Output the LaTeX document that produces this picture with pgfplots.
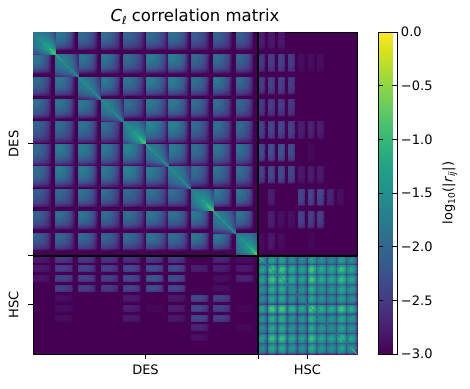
\documentclass[border=0pt]{standalone}
\usepackage{fontspec}
\setmainfont{DejaVu Sans}
\usepackage{pgfplots}
\usepackage{pgfplotstable}
\pgfplotsset{compat=1.18}
\definecolor{vbg}{RGB}{68,1,84}
% Shape of an off-diagonal DES tile
\pgfplotstableread{
u v t
0 0 .90
.08 0 .95
.25 0 .92
.5 0 .81
.7 0 .65
.82 0 .48
.92 0 .24
1 0 0
0 .08 .95
.08 .08 1.0
.25 .08 .97
.5 .08 .85
.7 .08 .68
.82 .08 .50
.92 .08 .25
1 .08 0
0 .25 .92
.08 .25 .97
.25 .25 .99
.5 .25 .82
.7 .25 .66
.82 .25 .49
.92 .25 .24
1 .25 0
0 .5 .81
.08 .5 .85
.25 .5 .82
.5 .5 .78
.7 .5 .58
.82 .5 .43
.92 .5 .21
1 .5 0
0 .7 .65
.08 .7 .68
.25 .7 .66
.5 .7 .58
.7 .7 .52
.82 .7 .34
.92 .7 .17
1 .7 0
0 .82 .48
.08 .82 .50
.25 .82 .49
.5 .82 .43
.7 .82 .34
.82 .82 .30
.92 .82 .13
1 .82 0
0 .92 .24
.08 .92 .25
.25 .92 .24
.5 .92 .21
.7 .92 .17
.82 .92 .13
.92 .92 .08
1 .92 0
0 1 0
.08 1 0
.25 1 0
.5 1 0
.7 1 0
.82 1 0
.92 1 0
1 1 0
}\tT
% Diagonal DES tile with a thin ridge
\pgfplotstableread{
u v t
0 0 1.2
.08 0 1.25
.25 0 1.2
.5 0 1.1
.7 0 .9
.82 0 .7
.92 0 .45
1 0 .2
0 .08 1.25
.08 .08 1.35
.25 .08 1.25
.5 .08 1.15
.7 .08 .95
.82 .08 .75
.92 .08 .5
1 .08 .25
0 .25 1.2
.08 .25 1.25
.25 .25 1.35
.5 .25 1.2
.7 .25 1.0
.82 .25 .8
.92 .25 .55
1 .25 .3
0 .5 1.1
.08 .5 1.15
.25 .5 1.2
.5 .5 1.3
.7 .5 1.1
.82 .5 .9
.92 .5 .6
1 .5 .35
0 .7 .9
.08 .7 .95
.25 .7 1.0
.5 .7 1.1
.7 .7 1.25
.82 .7 1.05
.92 .7 .75
1 .7 .45
0 .82 .7
.08 .82 .75
.25 .82 .8
.5 .82 .9
.7 .82 1.05
.82 .82 1.25
.92 .82 .95
1 .82 .6
0 .92 .45
.08 .92 .5
.25 .92 .55
.5 .92 .6
.7 .92 .75
.82 .92 .95
.92 .92 1.3
1 .92 .85
0 1 .2
.08 1 .25
.25 1 .3
.5 1 .35
.7 1 .45
.82 1 .6
.92 1 .85
1 1 1.4
}\tD
% Diagonal DES tile that brightens to its lower right corner
\pgfplotstableread{
u v t
0 0 1.0
.08 0 1.1
.25 0 1.15
.5 0 1.1
.7 0 1.0
.82 0 .85
.92 0 .6
1 0 .4
0 .08 1.1
.08 .08 1.3
.25 .08 1.25
.5 .08 1.2
.7 .08 1.1
.82 .08 .95
.92 .08 .7
1 .08 .5
0 .25 1.15
.08 .25 1.25
.25 .25 1.45
.5 .25 1.35
.7 .25 1.25
.82 .25 1.1
.92 .25 .85
1 .25 .65
0 .5 1.1
.08 .5 1.2
.25 .5 1.35
.5 .5 1.6
.7 .5 1.5
.82 .5 1.35
.92 .5 1.15
1 .5 .9
0 .7 1.0
.08 .7 1.1
.25 .7 1.25
.5 .7 1.5
.7 .7 1.8
.82 .7 1.7
.92 .7 1.45
1 .7 1.2
0 .82 .85
.08 .82 .95
.25 .82 1.1
.5 .82 1.35
.7 .82 1.7
.82 .82 2.0
.92 .82 1.9
1 .82 1.6
0 .92 .6
.08 .92 .7
.25 .92 .85
.5 .92 1.15
.7 .92 1.45
.82 .92 1.9
.92 .92 2.2
1 .92 2.0
0 1 .4
.08 1 .5
.25 1 .65
.5 1 .9
.7 1 1.2
.82 1 1.6
.92 1 2.0
1 1 2.5
}\tE
% HSC tile
\pgfplotstableread{
u v t
0 0 .55
.25 0 .75
.5 0 .8
.75 0 .65
1 0 .2
0 .25 .75
.25 .25 1
.5 .25 1
.75 .25 .8
1 .25 .22
0 .5 .8
.25 .5 1
.5 .5 1
.75 .5 .8
1 .5 .22
0 .75 .65
.25 .75 .8
.5 .75 .8
.75 .75 .65
1 .75 .2
0 1 .2
.25 1 .22
.5 1 .22
.75 1 .2
1 1 .08
}\tH
% DES x HSC bar
\pgfplotstableread{
u v t
0 0 .8
.15 0 .9
.5 0 .9
.85 0 .7
1 0 0
0 .15 .9
.15 .15 1
.5 .15 1
.85 .15 .75
1 .15 0
0 .5 .95
.15 .5 1
.5 .5 1
.85 .5 .75
1 .5 0
0 .85 .7
.15 .85 .75
.5 .85 .75
.85 .85 .6
1 .85 0
0 1 0
.15 1 0
.5 1 0
.85 1 0
1 1 0
}\tB
% Main diagonal ridge
\pgfplotstableread{
x m
0 -1.7
5.6 -1.5
11.2 -1.3
16.9 -1.0
22.5 -0.6
28 -1.4
34 -1.4
39 -1.4
45 -1.4
51 -1.4
56 -1.4
62 -1.4
67.5 -1.3
73 -1.5
79 -1.4
84 -1.4
90 -1.4
96 -1.5
101 -1.3
107 -1.0
112.5 -0.7
118 -1.4
124 -1.4
129 -1.4
135 -1.3
141 -1.5
146 -1.4
152 -1.4
157.5 -1.5
163 -1.5
169 -1.3
174 -1.0
180 -0.6
186 -1.3
191 -1.3
197 -1.3
202.5 -1.3
208 -1.5
214 -1.2
219 -0.9
225 -0.4
230 -1.6
235 -1.5
240 -1.6
245 -1.5
250 -1.6
255 -1.5
260 -1.6
265 -1.5
270 -1.6
275 -1.5
280 -1.6
285 -1.5
290 -1.6
295 -1.5
300 -1.6
305 -1.5
310 -1.6
315 -1.5
319 -1.1
324 -0.5
}\tL
\makeatletter
\newcommand\tile[7]{%
  \addplot[surf,shader=interp,mesh/cols=#7,mesh/ordering=x varies,point meta=explicit,forget plot]
    table[x expr={#2+#4*\thisrow{u}},y expr={324-(#3+#5*\thisrow{v})},meta expr={-3+#6*\thisrow{t}}]{#1};}
\def\extDES{{.82,.86,.88,.88,.98,.98,.94,.84,.84,.78}}
% one row of the DES x DES block; 0 = the diagonal tile, set apart
\newcommand\Drow[2]{\foreach \a [count=\c] in {#2}{%
  \ifdim\a pt>0pt\relax
  \pgfmathsetmacro\xo{(\c-1)*22.5}\pgfmathsetmacro\yo{(#1-1)*22.5}%
  \pgfmathsetmacro\xs{22.5*\extDES[\c-1]}\pgfmathsetmacro\ys{22.5*\extDES[#1-1]}%
  \edef\tmp{\noexpand\tile{\noexpand\tT}{\xo}{\yo}{\xs}{\ys}{\a}{8}}\tmp
  \fi}}
\newcommand\Ddiag[2]{\pgfmathsetmacro\xo{(#1-1)*22.5}%
  \edef\tmp{\noexpand\tile{\noexpand#2}{\xo}{\xo}{22.5}{22.5}{1}{8}}\tmp}
\newcommand\Hrow[2]{\foreach \a [count=\c] in {#2}{%
  \pgfmathsetmacro\xo{225+(\c-1)*9.9}\pgfmathsetmacro\yo{225+(#1-1)*9.9}%
  \edef\tmp{\noexpand\tile{\noexpand\tH}{\xo}{\yo}{9.9}{9.9}{\a}{5}}\tmp}}
% upper right part: DES row, list of ten HSC columns
\newcommand\URrow[2]{\foreach \a [count=\c] in {#2}{%
  \ifdim\a pt>0pt\relax
  \pgfmathsetmacro\xo{225+(\c-1)*9.9}\pgfmathsetmacro\yo{(#1-1)*22.5}%
  \edef\tmp{\noexpand\tile{\noexpand\tB}{\xo}{\yo}{7}{18}{\a}{5}}\tmp
  \fi}}
% lower left part: HSC row, list of ten DES columns
\newcommand\LLrow[2]{\foreach \a [count=\c] in {#2}{%
  \ifdim\a pt>0pt\relax
  \pgfmathsetmacro\xo{(\c-1)*22.5}\pgfmathsetmacro\yo{225+(#1-1)*9.9}%
  \edef\tmp{\noexpand\tile{\noexpand\tB}{\xo}{\yo}{18}{7}{\a}{5}}\tmp
  \fi}}
\makeatother
\newcommand\tk{\fontsize{13}{15}\selectfont}
\begin{document}
\begin{tikzpicture}[x=1pt,y=1pt]
\path[use as bounding box] (0,0) rectangle (470,388);
\begin{axis}[
  at={(33pt,34pt)},anchor=south west,scale only axis,
  width=324pt,height=322pt,
  xmin=0,xmax=324,ymin=0,ymax=324,
  axis background/.style={fill=vbg},
  colormap name=viridis,
  point meta min=-3,point meta max=0,
  axis line style={line width=.9pt,black},
  tick style={line width=.9pt,black},
  major tick length=5pt,
  xtick pos=left,ytick pos=left,tick align=outside,
  xtick={112.5,225,274.5},xticklabels={DES,,HSC},
  ytick={49.5,99,211.5},yticklabels={HSC,,DES},
  tick label style={font=\tk},
  xticklabel style={yshift=-2pt},
  yticklabel style={rotate=90,anchor=south,yshift=6pt},
  title={\textit{C}\raisebox{-.35ex}{\fontsize{11}{11}\selectfont\textit{ℓ}} correlation matrix},
  title style={font=\fontsize{16.5}{18}\selectfont,yshift=-2pt},
  colorbar,
  colorbar shift/.style={xshift=21pt},
  colorbar style={
    width=19pt,height=322pt,
    ytick={-3,-2.5,-2,-1.5,-1,-0.5,0},
    yticklabels={−3.0,−2.5,−2.0,−1.5,−1.0,−0.5,0.0},
    yticklabel pos=right,ylabel near ticks,
    tick label style={font=\tk},
    yticklabel style={rotate=0,anchor=west,yshift=0pt},
    major tick length=5pt,
    axis line style={line width=.7pt,black},
    ylabel={log\textsubscript{10}(|\textit{r}\textsubscript{\textit{ij}}|)},
    ylabel style={font=\tk,yshift=-3pt},
  },
]
\Drow{1}{0,1.2,1.05,1.1,.95,1.05,1.1,.9,.95,.9}
\Drow{2}{1.2,0,1.2,1.2,1.05,1.3,1.3,1.05,1.1,1.0}
\Drow{3}{1.05,1.2,0,1.25,1.15,1.3,1.3,1.15,1.2,1.05}
\Drow{4}{1.1,1.2,1.25,0,1.1,1.25,1.25,1.1,1.1,1.0}
\Drow{5}{.95,1.05,1.15,1.1,0,1.4,1.35,1.05,1.1,1.05}
\Drow{6}{1.05,1.3,1.3,1.25,1.4,0,1.3,1.15,1.2,1.15}
\Drow{7}{1.1,1.3,1.3,1.25,1.35,1.3,0,1.1,1.15,1.1}
\Drow{8}{.9,1.05,1.15,1.1,1.05,1.15,1.1,0,1.25,1.2}
\Drow{9}{.95,1.1,1.2,1.1,1.1,1.2,1.15,1.25,0,1.2}
\Drow{10}{.9,1.0,1.05,1.0,1.05,1.15,1.1,1.2,1.2,0}
\Ddiag{1}{\tE}\Ddiag{2}{\tD}\Ddiag{3}{\tD}\Ddiag{4}{\tD}\Ddiag{5}{\tE}
\Ddiag{6}{\tD}\Ddiag{7}{\tD}\Ddiag{8}{\tE}\Ddiag{9}{\tD}\Ddiag{10}{\tE}
\Hrow{1}{1.5,1.7,1.7,1.5,1.4,1.7,1.5,1.45,1.65,1.45}
\Hrow{2}{1.7,2.1,2.1,1.85,1.75,2.15,1.85,1.8,2.05,1.8}
\Hrow{3}{1.7,2.1,2.1,1.85,1.75,2.15,1.85,1.8,2.05,1.8}
\Hrow{4}{1.5,1.85,1.85,1.6,1.55,1.9,1.6,1.6,1.8,1.6}
\Hrow{5}{1.4,1.75,1.75,1.55,1.5,1.8,1.55,1.5,1.7,1.5}
\Hrow{6}{1.7,2.15,2.15,1.9,1.8,2.2,1.9,1.85,2.1,1.85}
\Hrow{7}{1.5,1.85,1.85,1.6,1.55,1.9,1.6,1.6,1.8,1.6}
\Hrow{8}{1.45,1.8,1.8,1.6,1.5,1.85,1.6,1.55,1.75,1.55}
\Hrow{9}{1.65,2.05,2.05,1.8,1.7,2.1,1.8,1.75,2.0,1.75}
\Hrow{10}{1.45,1.8,1.8,1.6,1.5,1.85,1.6,1.55,1.75,1.55}
\URrow{1}{.25,.2,.2,0,0,0,0,0,0,0}
\URrow{2}{.5,.55,.6,.55,.1,.1,.1,0,0,0}
\URrow{3}{.55,.6,.6,.55,0,0,0,0,0,0}
\URrow{4}{.5,.55,.55,.5,0,0,0,0,0,0}
\URrow{5}{.6,.65,.65,.6,.25,.3,.25,0,0,0}
\URrow{6}{.7,.75,.8,.7,0,.06,0,0,0,0}
\URrow{7}{.6,.7,.7,.65,.2,.25,.2,0,0,0}
\URrow{8}{0,.25,0,0,.65,.65,.65,.3,.1,0}
\URrow{9}{0,.25,.12,.12,.6,.6,.55,0,0,0}
\URrow{10}{.08,.2,.1,0,0,.05,0,0,0,0}
\LLrow{1}{.2,.5,.5,.45,.4,.5,.5,0,.3,.1}
\LLrow{2}{.2,.55,.6,.55,.65,.7,.7,.25,.25,.2}
\LLrow{3}{.15,.6,.6,.55,.65,.8,.7,0,.1,.3}
\LLrow{4}{0,.55,.55,.5,.6,.7,.65,0,.1,0}
\LLrow{5}{0,.1,0,0,.2,0,.2,.65,.6,0}
\LLrow{6}{0,.1,0,0,.25,.05,.25,.65,.6,.05}
\LLrow{7}{0,.1,0,0,.2,0,.2,.65,.55,0}
\LLrow{8}{0,0,0,0,0,0,0,.3,0,.05}
\LLrow{9}{0,0,0,0,0,0,0,.12,0,0}
\addplot[mesh,line width=.7pt,point meta=explicit,forget plot]
  table[x=x,y expr={324-\thisrow{x}},meta=m]{\tL};
\addplot[black,line width=2pt,forget plot] coordinates {(225,0)(225,324)};
\addplot[black,line width=2pt,forget plot] coordinates {(0,99)(324,99)};
\end{axis}
\end{tikzpicture}
\end{document}
